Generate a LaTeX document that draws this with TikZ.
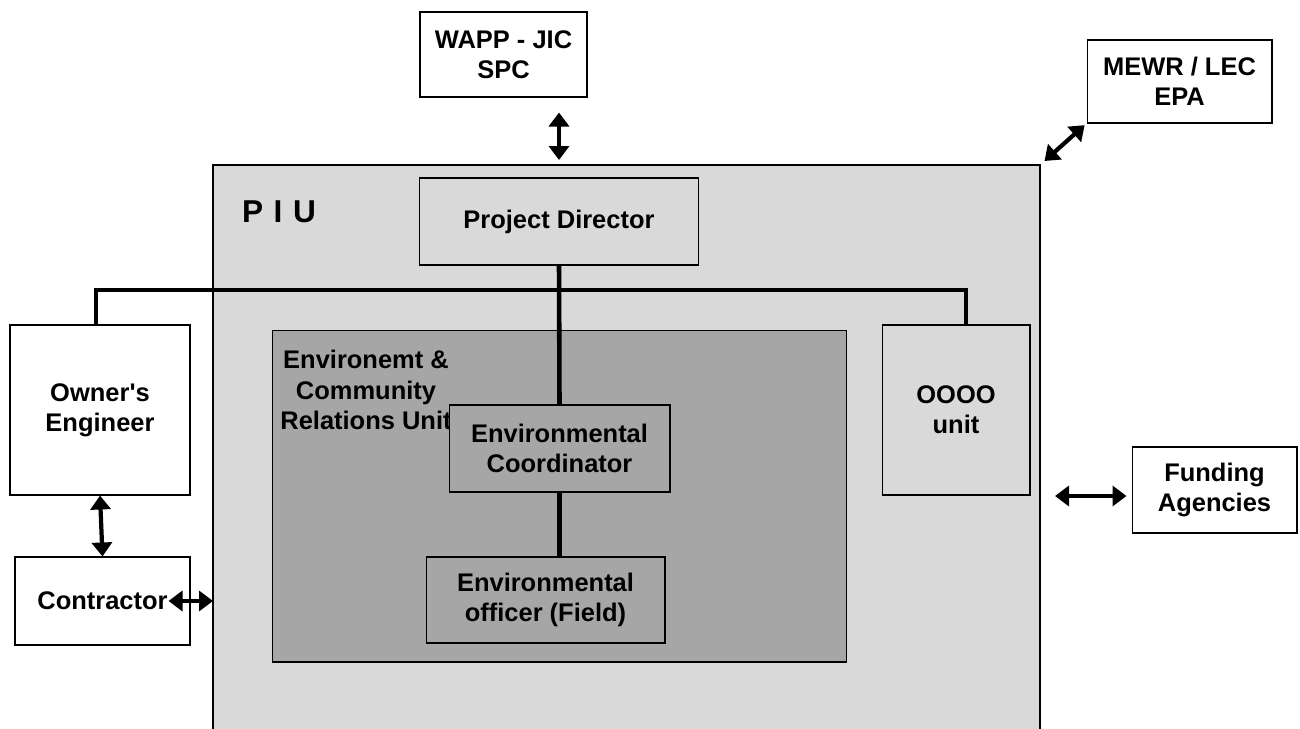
\documentclass[tikz,border=0pt]{standalone}
\usepackage{fontspec}
\setmainfont{Liberation Sans}
\usetikzlibrary{arrows.meta}
\definecolor{piugray}{HTML}{D9D9D9}
\definecolor{unitgray}{HTML}{A6A6A6}

\begin{document}
\begin{tikzpicture}[x=0.02cm,y=-0.02cm,
  box/.style={draw, line width=0.6pt, align=center, inner sep=2pt,
    font=\fontsize{14.5}{17}\selectfont\bfseries},
  conn/.style={line width=2.6pt},
  dbl/.style={line width=2.4pt,
    {Triangle[length=0.28cm,width=0.4cm]}-{Triangle[length=0.28cm,width=0.4cm]}}]
\useasboundingbox (0,0) rectangle (1300,729);

% PIU frame
\path[fill=piugray, draw, line width=0.6pt] (213,729) -- (213,165) -- (1040,165) -- (1040,729);
\node[font=\fontsize{18}{20}\selectfont\bfseries] (piu) at (279,212) {P\,\,I\,\,U};
\coordinate (piutop) at (559,165);
\coordinate (piutr) at (1040,165);
\coordinate (piul) at (213,601);
\coordinate (piur) at (1040,496);

% outside boxes
\node[box, fill=white, minimum width=3.34cm, minimum height=1.7cm] (wapp) at (503.5,54.5) {WAPP - JIC\\SPC};
\node[box, fill=white, minimum width=3.7cm, minimum height=1.66cm] (mewr) at (1179.5,81.5) {MEWR / LEC\\EPA};
\node[box, fill=white, minimum width=3.6cm, minimum height=3.4cm] (oe) at (100,410) {Owner\textquotesingle s\\Engineer};
\node[box, fill=white, minimum width=3.5cm, minimum height=1.76cm] (con) at (102.5,601) {Contractor};
\node[box, fill=white, minimum width=3.3cm, minimum height=1.72cm] (fa) at (1214.5,490) {Funding\\Agencies};

% inside PIU
\node[box, fill=piugray, minimum width=5.58cm, minimum height=1.74cm] (pd) at (559,221.5) {Project Director};
\node[box, fill=piugray, minimum width=2.96cm, minimum height=3.4cm] (ou) at (956,410) {OOOO\\unit};
\node[box, fill=unitgray, minimum width=11.5cm, minimum height=6.64cm] (ecu) at (559.5,496) {};
\node[font=\fontsize{14.5}{17.5}\selectfont\bfseries, align=center] (ecutxt) at (366,390) {Environemt \&\\Community\\Relations Unit};
\node[box, fill=unitgray, minimum width=4.42cm, minimum height=1.74cm] (ec) at (559.5,448.5) {Environmental\\Coordinator};
\node[box, fill=unitgray, minimum width=4.78cm, minimum height=1.72cm] (eo) at (545.5,600) {Environmental\\officer (Field)};

% lines
\coordinate (bus) at (559,290);
\draw[conn] ([xshift=-0.08cm]oe.north) |- (bus) -| ([xshift=0.2cm]ou.north);
\draw[conn] (pd.south) -- (ec.north);
\draw[conn] (ec.south) -- (ec.south |- eo.north);

% arrows
\draw[dbl, shorten <=0.3cm, shorten >=0.1cm] (wapp.south -| piutop) -- (piutop);
\draw[dbl, shorten <=0.12cm, shorten >=0.05cm] (piutr) -- (mewr.south west);
\draw[dbl] (oe.south) -- (con.north);
\draw[dbl] ([xshift=-0.44cm]con.east) -- (piul);
\draw[dbl, shorten <=0.3cm, shorten >=0.1cm] (piur) -- (piur -| fa.west);
\end{tikzpicture}
\end{document}
